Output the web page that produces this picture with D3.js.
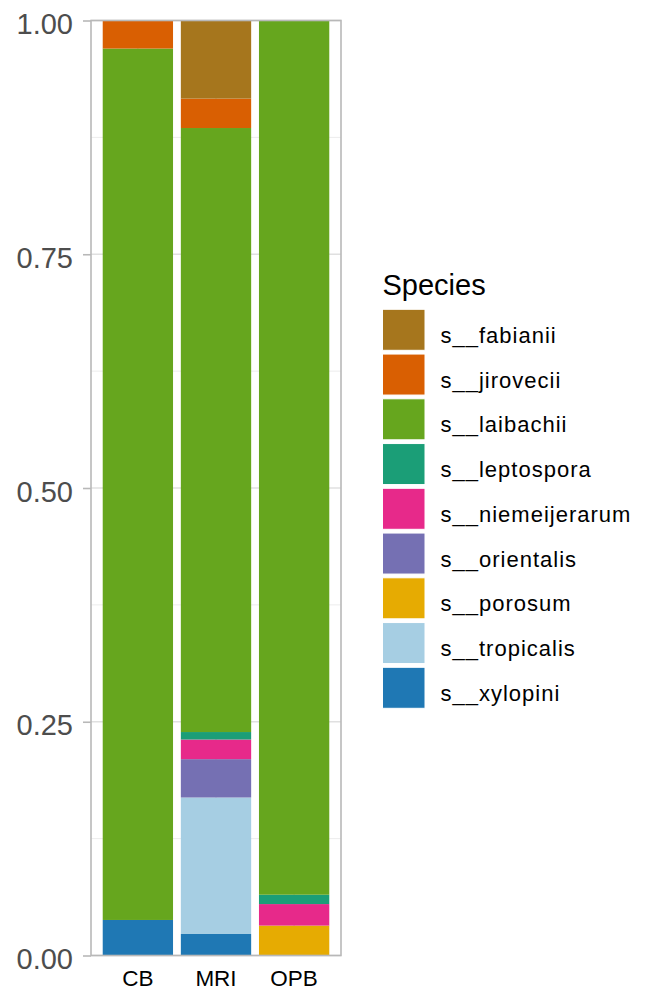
<!DOCTYPE html>
<html>
<head>
<meta charset="utf-8">
<script src="https://cdn.jsdelivr.net/npm/d3@7"></script>
<style>
  html, body { margin: 0; padding: 0; background: #fff; }
  svg { display: block; font-family: "Liberation Sans", Arial, sans-serif; }
</style>
</head>
<body>
<svg id="chart" width="651" height="992"></svg>
<script>
// Sites along the x axis
const sites = ["CB", "MRI", "OPB"];

// Species in legend order (first one is stacked on top)
const species = ["s__fabianii", "s__jirovecii", "s__laibachii", "s__leptospora",
  "s__niemeijerarum", "s__orientalis", "s__porosum", "s__tropicalis", "s__xylopini"];

const speciesColors = ["#A6761D", "#D95F02", "#66A61E", "#1B9E77",
  "#E7298A", "#7570B3", "#E6AB02", "#A6CEE3", "#1F78B4"];

// Relative abundance per site, one array per species (CB, MRI, OPB)
const fabianii      = [0.000, 0.0835, 0.000];
const jirovecii     = [0.030, 0.0315, 0.000];
const laibachii     = [0.932, 0.646, 0.935];
const leptospora    = [0.000, 0.008, 0.010];
const niemeijerarum = [0.000, 0.021, 0.023];
const orientalis    = [0.000, 0.041, 0.000];
const porosum       = [0.000, 0.000, 0.032];
const tropicalis    = [0.000, 0.146, 0.000];
const xylopini      = [0.038, 0.023, 0.000];

const yTicks = [0, 0.25, 0.5, 0.75, 1];
const yTickLabels = ["0.00", "0.25", "0.50", "0.75", "1.00"];
const yMinor = [0.125, 0.375, 0.625, 0.875];

const seriesValues = [fabianii, jirovecii, laibachii, leptospora,
  niemeijerarum, orientalis, porosum, tropicalis, xylopini];

// Rows for the stack layout
const rows = sites.map((s, i) => {
  const r = { site: s };
  species.forEach((sp, j) => { r[sp] = seriesValues[j][i]; });
  return r;
});

const svg = d3.select("#chart");
const panel = { left: 91, right: 341, top: 20.5, bottom: 955.5 };

const x = d3.scaleBand().domain(sites)
  .range([panel.left, panel.right]).paddingInner(0.1).paddingOuter(0.15);
const y = d3.scaleLinear().domain([0, 1]).range([panel.bottom, panel.top]);
const color = d3.scaleOrdinal().domain(species).range(speciesColors);

// Gridlines
const grid = svg.append("g");
grid.selectAll("line.minor").data(yMinor).join("line")
  .attr("x1", panel.left).attr("x2", panel.right)
  .attr("y1", d => y(d)).attr("y2", d => y(d))
  .attr("stroke", "#ececec").attr("stroke-width", 1);
grid.selectAll("line.major").data(yTicks).join("line")
  .attr("x1", panel.left).attr("x2", panel.right)
  .attr("y1", d => y(d)).attr("y2", d => y(d))
  .attr("stroke", "#e0e0e0").attr("stroke-width", 1.5);
grid.selectAll("line.vmajor").data(sites).join("line")
  .attr("x1", d => x(d) + x.bandwidth() / 2).attr("x2", d => x(d) + x.bandwidth() / 2)
  .attr("y1", panel.top).attr("y2", panel.bottom)
  .attr("stroke", "#e0e0e0").attr("stroke-width", 1.5);

// Stacked bars: last species at the bottom
const stack = d3.stack().keys(species.slice().reverse());
const layers = stack(rows);
svg.append("g").selectAll("g").data(layers).join("g")
  .attr("fill", d => color(d.key))
  .selectAll("rect").data(d => d).join("rect")
  .attr("x", d => x(d.data.site))
  .attr("width", x.bandwidth())
  .attr("y", d => y(d[1]))
  .attr("height", d => Math.max(0, y(d[0]) - y(d[1])));

// Panel border
svg.append("rect")
  .attr("x", panel.left).attr("y", panel.top)
  .attr("width", panel.right - panel.left).attr("height", panel.bottom - panel.top)
  .attr("fill", "none").attr("stroke", "#b8b8b8").attr("stroke-width", 1.6);

// Y axis
const yAxis = d3.axisLeft(y).tickValues(yTicks)
  .tickFormat((d, i) => yTickLabels[i]).tickSize(8).tickPadding(10);
const ya = svg.append("g").attr("transform", `translate(${panel.left},0)`).call(yAxis);
ya.select(".domain").remove();
ya.selectAll(".tick line").attr("stroke", "#b8b8b8").attr("stroke-width", 1.6);
ya.selectAll(".tick text")
  .attr("fill", "#4d4d4d").attr("font-size", 29)
  .attr("font-family", "'Liberation Sans', Arial, sans-serif")
  .attr("dy", "0.45em");

// X axis (labels only)
const xAxis = d3.axisBottom(x).tickSize(0).tickPadding(15);
const xa = svg.append("g").attr("transform", `translate(0,${panel.bottom})`).call(xAxis);
xa.select(".domain").remove();
xa.selectAll(".tick line").remove();
xa.selectAll(".tick text")
  .attr("fill", "#000").attr("font-size", 22.5)
  .attr("font-family", "'Liberation Sans', Arial, sans-serif");

// Legend
const legend = svg.append("g").attr("transform", "translate(382.5,0)");
legend.append("text")
  .attr("x", 0).attr("y", 295)
  .attr("font-size", 29).attr("fill", "#000")
  .text("Species");
const keyTop = 309.3, pitch = 44.75, keyW = 42.5, keyH = 41;
const items = legend.selectAll("g.item").data(species).join("g")
  .attr("transform", (d, i) => `translate(0,${keyTop + i * pitch})`);
items.append("rect")
  .attr("width", keyW).attr("height", keyH)
  .attr("fill", d => color(d))
  .attr("stroke", "#fff").attr("stroke-width", 1);
items.append("text")
  .attr("x", 58).attr("y", keyH / 2 + 13)
  .attr("font-size", 22).attr("letter-spacing", 1)
  .attr("fill", "#000")
  .text(d => d);
</script>
</body>
</html>
